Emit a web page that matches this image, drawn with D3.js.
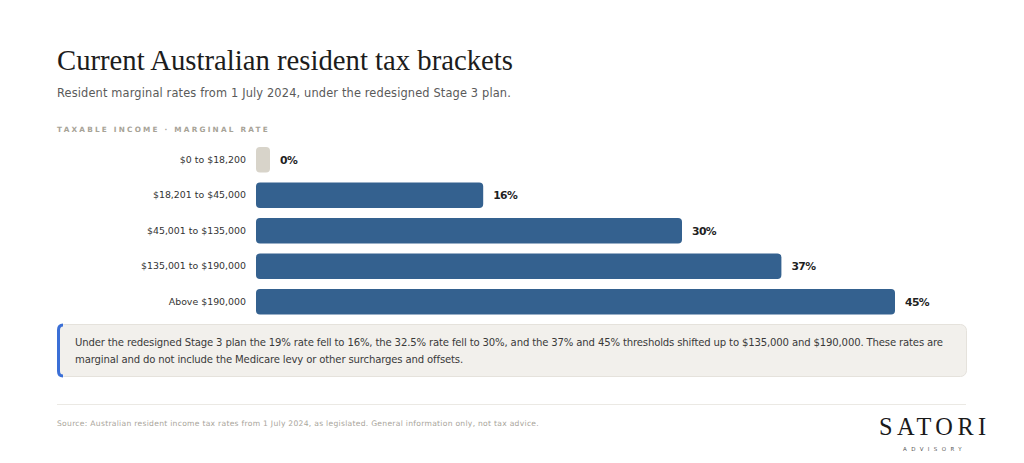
<!DOCTYPE html>
<html lang="en">
    <head>
        <meta charset="utf-8">
        <title>Current Australian resident tax brackets</title>
        <script src="https://cdn.jsdelivr.net/npm/d3@7"></script>
        <style type="text/css">
            body { margin: 0; background: #ffffff; }
        </style>
    </head>

    <body>
        <script type="text/javascript">
            // Data
            var brackets = ["$0 to $18,200", "$18,201 to $45,000", "$45,001 to $135,000", "$135,001 to $190,000", "Above $190,000"];
            var rates = [0, 16, 30, 37, 45];
            var rateLabels = ["0%", "16%", "30%", "37%", "45%"];

            var w = 1024;
            var h = 463;
            var sans = "'DejaVu Sans', sans-serif";
            var serif = "'Liberation Serif', 'DejaVu Serif', serif";

            var svg = d3.select("body")
                    .append("svg")
                    .attr("width", w)
                    .attr("height", h);

            // Scale font size so a text spans a given width
            function fit(sel, width) {
                var size = parseFloat(sel.attr("font-size"));
                var len = sel.node().getComputedTextLength();
                sel.attr("font-size", (size * width / len).toFixed(2));
                return sel;
            }
            // Keep the font size, adjust letter-spacing until the text spans a given width
            function spread(sel, width) {
                sel.attr("letter-spacing", 0);
                var len = sel.node().getComputedTextLength();
                var n = sel.text().length;
                var ls = (width - len) / n;
                sel.attr("letter-spacing", ls.toFixed(3));
                return ls;
            }

            // Heading block
            fit(svg.append("text")
                .attr("x", 57).attr("y", 70)
                .attr("font-family", serif)
                .attr("font-size", 28)
                .attr("fill", "#1c1c1c")
                .text("Current Australian resident tax brackets"), 456);

            spread(svg.append("text")
                .attr("x", 57).attr("y", 97)
                .attr("font-family", sans)
                .attr("font-size", 11.4)
                .attr("fill", "#5a5a5a")
                .text("Resident marginal rates from 1 July 2024, under the redesigned Stage 3 plan."), 454);

            spread(svg.append("text")
                .attr("x", 57).attr("y", 132)
                .attr("font-family", sans)
                .attr("font-size", 7.3)
                .attr("font-weight", "bold")
                .attr("fill", "#a7a397")
                .text("TAXABLE INCOME \u00b7 MARGINAL RATE"), 213);

            // Scales
            var xScale = d3.scaleLinear()
                            .domain([0, 45])
                            .range([256, 895]);
            var yScale = d3.scaleBand()
                            .domain(brackets)
                            .range([142, 319.5])
                            .paddingInner(0.28)
                            .paddingOuter(0.14);

            var minBar = 14;
            function barEnd(i) {
                return Math.max(xScale(rates[i]), xScale(0) + minBar);
            }

            // Bars
            svg.selectAll("rect.bar")
                .data(brackets)
                .enter()
                .append("rect")
                .attr("class", "bar")
                .attr("x", xScale(0))
                .attr("y", function(d) { return yScale(d); })
                .attr("width", function(d, i) { return barEnd(i) - xScale(0); })
                .attr("height", yScale.bandwidth())
                .attr("rx", 4)
                .attr("fill", function(d, i) { return rates[i] === 0 ? "#d8d4ca" : "#34618f"; });

            // Category labels (left axis, no line)
            var yAxis = d3.axisLeft(yScale).tickSize(0).tickPadding(0);
            var gy = svg.append("g")
                .attr("transform", "translate(246,0)")
                .call(yAxis);
            gy.select(".domain").remove();
            gy.selectAll("text")
                .attr("font-family", sans)
                .attr("font-size", 9.4)
                .attr("fill", "#333333");
            var longest = gy.selectAll("text").filter(function(d) { return d === "$135,001 to $190,000"; });
            var lsCat = spread(longest, 105);
            gy.selectAll("text").attr("letter-spacing", lsCat.toFixed(3));

            // Value labels
            var vals = svg.selectAll("text.val")
                .data(brackets)
                .enter()
                .append("text")
                .attr("class", "val")
                .attr("x", function(d, i) { return barEnd(i) + 10; })
                .attr("y", function(d) { return yScale(d) + yScale.bandwidth() / 2; })
                .attr("dy", "0.36em")
                .attr("font-family", sans)
                .attr("font-size", 10.8)
                .attr("font-weight", "bold")
                .attr("fill", "#1f1f1f")
                .text(function(d, i) { return rateLabels[i]; });
            var v45 = vals.filter(function(d, i) { return i === 4; });
            var lsVal = spread(v45, 24);
            vals.attr("letter-spacing", lsVal.toFixed(3));

            // Callout box
            svg.append("rect")
                .attr("x", 57.5).attr("y", 324.5)
                .attr("width", 909).attr("height", 52)
                .attr("rx", 6)
                .attr("fill", "#f2f0ec")
                .attr("stroke", "#e5e2dc");
            svg.append("path")
                .attr("d", "M63,325 Q58.5,325 58.5,330 L58.5,371 Q58.5,376 63,376")
                .attr("fill", "none")
                .attr("stroke", "#3b6fd6")
                .attr("stroke-width", 3);

            var calloutLines = [
                "Under the redesigned Stage 3 plan the 19% rate fell to 16%, the 32.5% rate fell to 30%, and the 37% and 45% thresholds shifted up to $135,000 and $190,000. These rates are",
                "marginal and do not include the Medicare levy or other surcharges and offsets."
            ];
            var c1 = svg.append("text")
                .attr("x", 75).attr("y", 346)
                .attr("font-family", sans)
                .attr("font-size", 10.1)
                .attr("fill", "#3a3a3a")
                .text(calloutLines[0]);
            var lsCall = spread(c1, 868);
            svg.append("text")
                .attr("x", 75).attr("y", 362.5)
                .attr("font-family", sans)
                .attr("font-size", 10.1)
                .attr("letter-spacing", lsCall.toFixed(3))
                .attr("fill", "#3a3a3a")
                .text(calloutLines[1]);

            // Footer
            svg.append("line")
                .attr("x1", 57).attr("x2", 966)
                .attr("y1", 404.5).attr("y2", 404.5)
                .attr("stroke", "#ebe9e4");

            spread(svg.append("text")
                .attr("x", 57).attr("y", 426)
                .attr("font-family", sans)
                .attr("font-size", 7.6)
                .attr("fill", "#a9a59b")
                .text("Source: Australian resident income tax rates from 1 July 2024, as legislated. General information only, not tax advice."), 482);

            // Logo
            fit(svg.append("text")
                .attr("x", 879).attr("y", 435)
                .attr("font-family", serif)
                .attr("font-size", 25)
                .attr("letter-spacing", 4.5)
                .attr("fill", "#1a1a1a")
                .text("SATORI"), 111);

            spread(svg.append("text")
                .attr("x", 903).attr("y", 451)
                .attr("font-family", sans)
                .attr("font-size", 5.5)
                .attr("fill", "#555555")
                .text("ADVISORY"), 63);
        </script>
    </body>
</html>
